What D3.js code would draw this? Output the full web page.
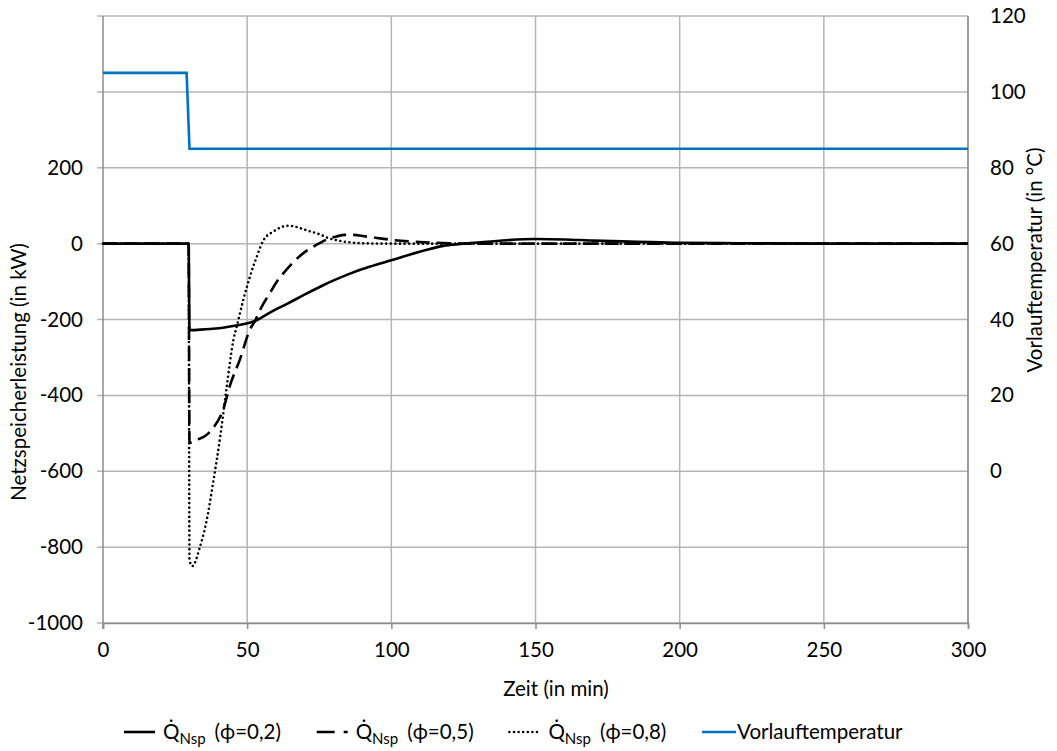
<!DOCTYPE html>
<html>
<head>
<meta charset="utf-8">
<script src="https://cdn.jsdelivr.net/npm/d3@7"></script>
<style>
  body { margin: 0; background: #fff; }
  text { font-family: Lato, "Open Sans", "DejaVu Sans", sans-serif; fill: #000; }
</style>
</head>
<body>
<svg id="chart" width="1057" height="751"></svg>
<script>
// Flow temperature (right axis, °C)
const timeFlow = [0, 29, 30, 300];
const flowTemp = [105, 105, 85, 85];

// Network storage power for phi = 0.2 (left axis, kW)
const time02 = [0, 29.7, 30, 35, 40, 46, 49, 52.7, 58, 64, 70, 76, 80, 85, 90, 95, 100, 106, 112, 118, 124, 130, 140, 150, 160, 170, 180, 190, 200, 220, 250, 300];
const heat02 = [0, 0, -228, -226, -223, -216, -212, -204, -181, -158, -134, -111, -97, -81, -67, -55, -44, -30, -17, -6, -1, 3, 9, 12, 11, 8, 6, 4, 2, 1, 0, 0];

// phi = 0.5
const time05 = [0, 29.7, 30, 31, 33, 35.4, 38.3, 41.7, 44, 47.5, 51, 52.7, 55, 57.9, 60.5, 63.7, 66.5, 69.5, 72.5, 75.3, 78, 81, 84, 87, 90, 95, 100, 106, 113, 120, 125, 130, 150, 200, 300];
const heat05 = [0, 0, -525, -524, -516, -507, -485, -437, -375, -305, -226, -204, -167, -130, -98, -68, -45, -25, -10, 2, 12, 19, 23, 23, 20, 15, 10, 6, 3, 1, 0, 0, 0, 0, 0];

// phi = 0.8
const time08 = [0, 29.7, 30, 31, 33.6, 36, 38.3, 40.6, 42.9, 45.2, 46.4, 48.7, 51, 53.3, 55.6, 59.1, 61.5, 63.7, 66, 68.3, 71.5, 75.3, 78, 81, 85, 90, 100, 300];
const heat08 = [0, 0, -835, -850, -800, -728, -625, -512, -378, -255, -218, -147, -86, -35, 8, 32, 42, 47, 46, 41, 33, 24, 15, 9, 4, 1, 0, 0];

// Axis ticks
const timeTicks = [0, 50, 100, 150, 200, 250, 300];
const powerGrid = [-1000, -800, -600, -400, -200, 0, 200, 400, 600];
const powerLabels = [-1000, -800, -600, -400, -200, 0, 200];
const tempLabels = [0, 20, 40, 60, 80, 100, 120];

// Legend entries
const legendPhi = ["(\u03D5=0,2)", "(\u03D5=0,5)", "(\u03D5=0,8)"];
const legendFlow = "Vorlauftemperatur";

const svg = d3.select("#chart");
const plot = { left: 103, right: 968, top: 16, bottom: 623 };

const x = d3.scaleLinear().domain([0, 300]).range([plot.left, plot.right]);
const yL = d3.scaleLinear().domain([-1000, 600]).range([plot.bottom, plot.top]);
const yR = d3.scaleLinear().domain([-40, 120]).range([plot.bottom, plot.top]);

const gridColor = "#b4b4b4";
const axisColor = "#8c8c8c";
const fontSize = 20.5;
const plain = d => String(d);   // hyphen-minus, as in the spreadsheet labels

// Horizontal grid lines
svg.append("g").selectAll("line").data(powerGrid).join("line")
  .attr("x1", plot.left - 6).attr("x2", plot.right)
  .attr("y1", d => yL(d)).attr("y2", d => yL(d))
  .attr("stroke", gridColor).attr("stroke-width", 1.5);

// Vertical grid lines
svg.append("g").selectAll("line").data(timeTicks.slice(1)).join("line")
  .attr("x1", d => x(d)).attr("x2", d => x(d))
  .attr("y1", plot.top).attr("y2", plot.bottom)
  .attr("stroke", gridColor).attr("stroke-width", 1.5);

// Bottom axis with outward ticks
const xAxis = svg.append("g").attr("transform", `translate(0,${plot.bottom})`)
  .call(d3.axisBottom(x).tickValues(timeTicks).tickSize(6).tickPadding(13).tickFormat(plain));
xAxis.select(".domain").attr("stroke", axisColor).attr("stroke-width", 1.5);
xAxis.selectAll(".tick line").attr("stroke", axisColor).attr("stroke-width", 1.5);
xAxis.selectAll("text").attr("font-size", fontSize).attr("font-family", null);

// Left axis
const yAxisL = svg.append("g").attr("transform", `translate(${plot.left},0)`)
  .call(d3.axisLeft(yL).tickValues(powerLabels).tickSize(0).tickPadding(20).tickFormat(plain));
yAxisL.select(".domain").remove();
yAxisL.selectAll("text").attr("font-size", fontSize).attr("font-family", null);
svg.append("line").attr("x1", plot.left).attr("x2", plot.left)
  .attr("y1", plot.top).attr("y2", plot.bottom + 6)
  .attr("stroke", axisColor).attr("stroke-width", 1.5);

// Right axis
const yAxisR = svg.append("g").attr("transform", `translate(${plot.right},0)`)
  .call(d3.axisRight(yR).tickValues(tempLabels).tickSize(0).tickPadding(22).tickFormat(plain));
yAxisR.select(".domain").remove();
yAxisR.selectAll("text").attr("font-size", fontSize).attr("font-family", null);
svg.append("line").attr("x1", plot.right).attr("x2", plot.right)
  .attr("y1", plot.top).attr("y2", plot.bottom)
  .attr("stroke", axisColor).attr("stroke-width", 1.5);

// Axis titles
svg.append("text").attr("x", 556).attr("y", 696).attr("text-anchor", "middle")
  .attr("font-size", fontSize).text("Zeit (in min)");
svg.append("text").attr("transform", "translate(26,372) rotate(-90)").attr("text-anchor", "middle")
  .attr("font-size", fontSize).text("Netzspeicherleistung (in kW)");
svg.append("text").attr("transform", "translate(1042,260) rotate(-90)").attr("text-anchor", "middle")
  .attr("font-size", fontSize).text("Vorlauftemperatur (in °C)");

// Series
const styles = [
  { dash: null, width: 2.6, cap: "butt", legendDash: null },
  { dash: "14,7", width: 2.6, cap: "butt", legendDash: "18,9,6,20" },
  { dash: "0,4.6", width: 2.6, cap: "round", legendDash: "0,4.6" }
];
const series = [
  { t: time02, v: heat02, s: styles[0] },
  { t: time05, v: heat05, s: styles[1] },
  { t: time08, v: heat08, s: styles[2] }
];
const lineL = d3.line().x(d => x(d[0])).y(d => yL(d[1])).curve(d3.curveMonotoneX);
const gLines = svg.append("g");
series.slice().reverse().forEach(sr => {
  gLines.append("path")
    .datum(d3.zip(sr.t, sr.v))
    .attr("d", lineL)
    .attr("fill", "none").attr("stroke", "#000")
    .attr("stroke-width", sr.s.width)
    .attr("stroke-dasharray", sr.s.dash)
    .attr("stroke-linecap", sr.s.cap)
    .attr("stroke-linejoin", "round");
});

const lineR = d3.line().x(d => x(d[0])).y(d => yR(d[1]));
svg.append("path").datum(d3.zip(timeFlow, flowTemp))
  .attr("d", lineR).attr("fill", "none")
  .attr("stroke", "#0070C0").attr("stroke-width", 2.6);

// Legend
const legendY = 732;
const legendX0 = 124, legendStep = 192.7, sampleLen = 31;
const legend = svg.append("g");
const entries = legendPhi.map((p, i) => ({ kind: "heat", label: p, s: styles[i] }))
  .concat([{ kind: "flow", label: legendFlow }]);
entries.forEach((e, i) => {
  const x0 = legendX0 + i * legendStep;
  const ln = legend.append("line")
    .attr("x1", x0).attr("x2", x0 + sampleLen + (i === 3 ? 3 : 0))
    .attr("y1", legendY).attr("y2", legendY)
    .attr("fill", "none");
  if (e.kind === "flow") {
    ln.attr("stroke", "#0070C0").attr("stroke-width", 2.6);
    legend.append("text").attr("x", x0 + sampleLen + 4).attr("y", legendY + 7)
      .attr("font-size", fontSize).text(e.label);
  } else {
    ln.attr("stroke", "#000").attr("stroke-width", e.s.width)
      .attr("stroke-dasharray", e.s.legendDash)
      .attr("stroke-linecap", e.s.cap);
    const t = legend.append("text").attr("x", x0 + sampleLen + 8).attr("y", legendY + 7)
      .attr("font-size", fontSize);
    t.append("tspan").text("Q\u0307");
    t.append("tspan").attr("font-size", 15).attr("dy", 5).text("Nsp");
    t.append("tspan").attr("dy", -5).attr("dx", 9).text(e.label);
  }
});
</script>
</body>
</html>
